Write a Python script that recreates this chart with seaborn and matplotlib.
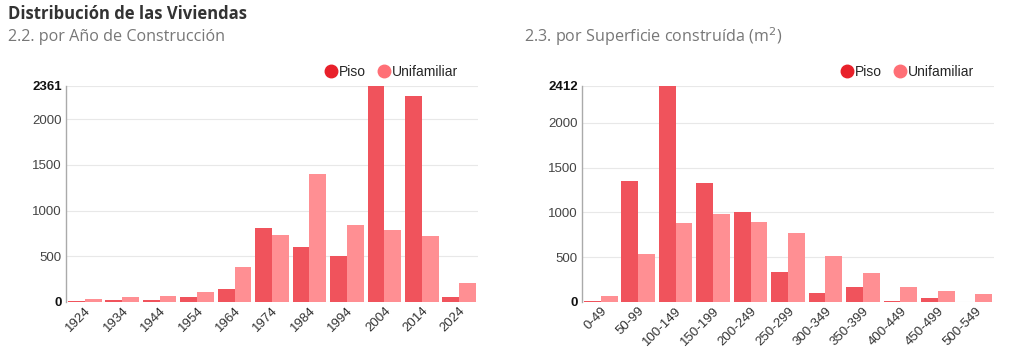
import pandas as pd
import matplotlib.pyplot as plt
from matplotlib.lines import Line2D
import seaborn as sns

# datos
anios = ['1924', '1934', '1944', '1954', '1964', '1974', '1984', '1994', '2004', '2014', '2024']
anio_piso = [10, 18, 25, 50, 140, 810, 605, 500, 2361, 2248, 55]
anio_unif = [32, 50, 70, 110, 385, 735, 1402, 842, 783, 725, 207]

superficies = ['0-49', '50-99', '100-149', '150-199', '200-249', '250-299',
               '300-349', '350-399', '400-449', '450-499', '500-549']
sup_piso = [10, 1348, 2412, 1326, 1002, 335, 100, 171, 12, 48, 5]
sup_unif = [64, 540, 879, 986, 890, 770, 518, 320, 171, 123, 89]

tipos = ['Piso', 'Unifamiliar']
bar_colors = ['#f0535c', '#ff8f93']
dot_colors = ['#e8202a', '#ff6f76']

sns.set_style('white')
plt.rcParams['font.family'] = ['Liberation Sans', 'DejaVu Sans']

fig = plt.figure(figsize=(10.24, 3.56), dpi=100)
ax1 = fig.add_axes([66 / 1024, 54 / 356, 412 / 1024, 216 / 356])
ax2 = fig.add_axes([582 / 1024, 54 / 356, 412 / 1024, 216 / 356])


def long_df(cats, piso, unif):
    return pd.DataFrame({
        'cat': cats * 2,
        'valor': piso + unif,
        'tipo': ['Piso'] * len(cats) + ['Unifamiliar'] * len(cats),
    })


def draw(ax, cats, piso, unif):
    df = long_df(cats, piso, unif)
    sns.barplot(data=df, x='cat', y='valor', hue='tipo', hue_order=tipos,
                palette=bar_colors, width=0.9, linewidth=0, saturation=1,
                ax=ax, legend=False)
    top = max(piso + unif)
    ax.set_ylim(0, top)
    ax.set_xlim(-0.5, len(cats) - 0.5)
    ticks = [0, 500, 1000, 1500, 2000, top]
    ax.set_yticks(ticks)
    ax.set_yticklabels([str(t) for t in ticks])
    for lab, t in zip(ax.get_yticklabels(), ticks):
        if t in (0, top):
            lab.set_fontweight('bold')
            lab.set_color('#111111')
        else:
            lab.set_color('#444444')
    ax.tick_params(axis='y', labelsize=9.5, length=0, pad=3)
    ax.tick_params(axis='x', labelsize=9.5, length=0, pad=2, labelcolor='#333333')
    for lab in ax.get_xticklabels():
        lab.set_rotation(45)
        lab.set_ha('right')
        lab.set_rotation_mode('anchor')
    ax.set_xlabel('')
    ax.set_ylabel('')
    ax.grid(axis='y', color='#e8e8e8', linewidth=0.8)
    ax.set_axisbelow(True)
    for s in ['top', 'right', 'bottom']:
        ax.spines[s].set_visible(False)
    ax.spines['left'].set_color('#aaaaaa')
    ax.spines['left'].set_linewidth(1)
    handles = [Line2D([], [], marker='o', linestyle='', markersize=9,
                      markerfacecolor=c, markeredgecolor=c) for c in dot_colors]
    ax.legend(handles, tipos, ncol=2, loc='center', bbox_to_anchor=(0.79, 1.065),
              frameon=False, fontsize=10, handlelength=0.9, handletextpad=0.1,
              columnspacing=0.9, borderaxespad=0)


draw(ax1, anios, anio_piso, anio_unif)
draw(ax2, superficies, sup_piso, sup_unif)

fig.text(8 / 1024, 1 - 14 / 356, 'Distribución de las Viviendas', fontsize=12,
         fontweight='bold', color='#333333', va='center', family=['Open Sans', 'DejaVu Sans'])
fig.text(8 / 1024, 1 - 37 / 356, '2.2. por Año de Construcción', fontsize=11.6,
         color='#777777', va='center', family=['Open Sans', 'DejaVu Sans'])
fig.text(524 / 1024, 1 - 37 / 356, '2.3. por Superficie construída (m$^2$)', fontsize=11.6,
         color='#777777', va='center', family=['Open Sans', 'DejaVu Sans'])

fig.savefig('out.png', dpi=100)
